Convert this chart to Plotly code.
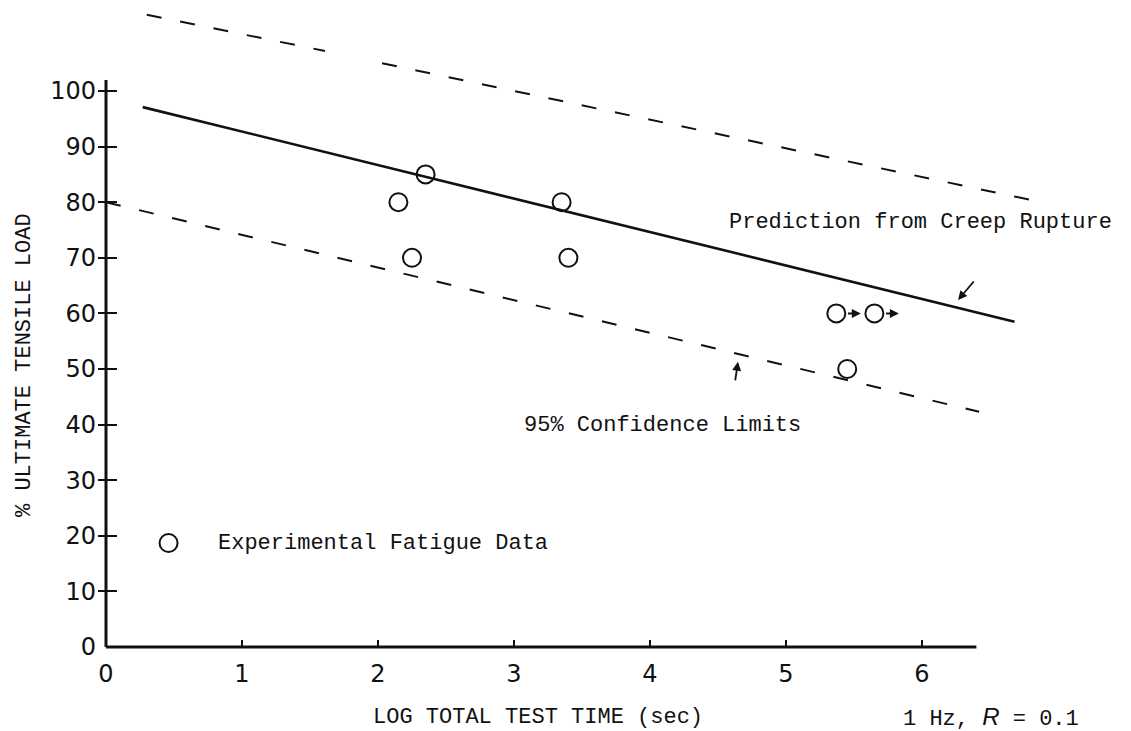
import plotly.graph_objects as go

# ---- data -------------------------------------------------------------
# Experimental fatigue data: log total test time (s) vs % ultimate tensile load
fatigue_log_t = [2.15, 2.35, 2.25, 3.35, 3.40, 5.37, 5.65, 5.45]
fatigue_pct = [80, 85, 70, 80, 70, 60, 60, 50]

# Run-outs (specimens still intact when the test was stopped)
runout_log_t = [5.37, 5.65]
runout_pct = [60, 60]

# Prediction from creep rupture
pred_log_t = [0.27, 6.68]
pred_pct = [97.1, 58.5]

# 95 % confidence limits (upper one is drawn in two pieces)
upper_log_t = [0.30, 1.61, None, 2.03, 6.88]
upper_pct = [113.7, 107.2, None, 105.0, 80.0]
lower_log_t = [0.0, 6.42]
lower_pct = [80.0, 42.3]

# Legend symbol
legend_log_t = [0.46]
legend_pct = [18.7]

# Axes
x_ticks = [0, 1, 2, 3, 4, 5, 6]
y_ticks = [0, 10, 20, 30, 40, 50, 60, 70, 80, 90, 100]
y_cross_ticks = [10, 20, 30, 40, 50, 60, 70, 80, 90, 100]
x_axis_end = 6.40
y_axis_top = 102.0

# ---- page geometry ------------------------------------------------------
W, H = 1131, 731
ML, MB = 92, 76
X0_PX, PX_PER_X = 106, 136.0
Y0_PX, PX_PER_Y = 647, 5.56
x_range = [(ML - X0_PX) / PX_PER_X, (W - X0_PX) / PX_PER_X]
y_range = [-((H - MB) - Y0_PX) / PX_PER_Y, Y0_PX / PX_PER_Y]
x_axis_pos = (0 - y_range[0]) / (y_range[1] - y_range[0])
y_axis_pos = (0 - x_range[0]) / (x_range[1] - x_range[0])

INK = "#111111"
MONO = "Liberation Mono, Courier New, monospace"
DIGITS = "DejaVu Sans, sans-serif"

fig = go.Figure()

# axis lines (ending short of the plot area like a hand-drawn frame)
fig.add_trace(go.Scatter(x=[0, x_axis_end], y=[0, 0], mode="lines",
                         line=dict(color=INK, width=3), hoverinfo="skip"))
fig.add_trace(go.Scatter(x=[0, 0], y=[0, y_axis_top], mode="lines",
                         line=dict(color=INK, width=3), hoverinfo="skip"))

# confidence limits
fig.add_trace(go.Scatter(x=upper_log_t, y=upper_pct, mode="lines",
                         line=dict(color=INK, width=2, dash="15px,19px")))
fig.add_trace(go.Scatter(x=lower_log_t, y=lower_pct, mode="lines",
                         line=dict(color=INK, width=2, dash="15px,19px")))

# creep-rupture prediction
fig.add_trace(go.Scatter(x=pred_log_t, y=pred_pct, mode="lines",
                         line=dict(color=INK, width=2.6)))

# fatigue data and legend symbol
marker = dict(symbol="circle-open", size=18, color=INK, line=dict(width=2, color=INK))
fig.add_trace(go.Scatter(x=fatigue_log_t, y=fatigue_pct, mode="markers", marker=marker))
fig.add_trace(go.Scatter(x=legend_log_t, y=legend_pct, mode="markers", marker=marker))

# empty traces that carry the crossing tick axes
fig.add_trace(go.Scatter(x=[None], y=[None], yaxis="y2", hoverinfo="skip"))
fig.add_trace(go.Scatter(x=[None], y=[None], yaxis="y3", hoverinfo="skip"))

annotations = []

# run-out arrows pointing right from each circle
for xv, yv in zip(runout_log_t, runout_pct):
    annotations.append(dict(x=xv + 0.18, y=yv, ax=xv + 0.075, ay=yv,
                            xref="x", yref="y", axref="x", ayref="y",
                            text="", showarrow=True, arrowhead=2, arrowsize=0.9,
                            arrowwidth=2, arrowcolor=INK))

# pointer to the prediction line
annotations.append(dict(x=6.265, y=62.4, ax=6.39, ay=66.0,
                        xref="x", yref="y", axref="x", ayref="y",
                        text="", showarrow=True, arrowhead=2, arrowsize=1,
                        arrowwidth=1.8, arrowcolor=INK))
# pointer to the lower confidence limit
annotations.append(dict(x=4.647, y=51.3, ax=4.625, ay=47.7,
                        xref="x", yref="y", axref="x", ayref="y",
                        text="", showarrow=True, arrowhead=2, arrowsize=1,
                        arrowwidth=1.8, arrowcolor=INK))

text_font = dict(family=MONO, size=22, color=INK)
annotations += [
    dict(x=4.566, y=76.4, xref="x", yref="y", xanchor="left", yanchor="middle",
         text="Prediction from Creep Rupture", showarrow=False, font=text_font),
    dict(x=5.125, y=39.9, xref="x", yref="y", xanchor="right", yanchor="middle",
         text="95% Confidence Limits", showarrow=False, font=text_font),
    dict(x=0.81, y=18.7, xref="x", yref="y", xanchor="left", yanchor="middle",
         text="Experimental Fatigue Data", showarrow=False, font=text_font),
    dict(x=3.18, y=-(717 - (H - MB)) / (H - MB), xref="x", yref="paper",
         xanchor="center", yanchor="middle",
         text="LOG TOTAL TEST TIME (sec)", showarrow=False, font=text_font),
    dict(x=5.846, y=-(717 - (H - MB)) / (H - MB), xref="x", yref="paper",
         xanchor="left", yanchor="middle",
         text="1 Hz, <span style='font-family:Liberation Sans;font-size:24px'><i>R</i></span> = 0.1",
         showarrow=False, font=text_font),
    dict(x=(25 - ML) / (W - ML), y=((H - MB) - 365) / (H - MB), xref="paper", yref="paper",
         xanchor="center", yanchor="middle", textangle=-90,
         text="% ULTIMATE TENSILE LOAD", showarrow=False, font=text_font),
]

fig.update_layout(
    width=W, height=H,
    margin=dict(l=ML, r=0, t=0, b=MB, pad=0),
    paper_bgcolor="white", plot_bgcolor="white",
    showlegend=False,
    xaxis=dict(range=x_range, anchor="free", position=x_axis_pos,
               showline=False, showgrid=False, zeroline=False,
               tickmode="array", tickvals=x_ticks, ticktext=[str(v) for v in x_ticks],
               ticks="inside", ticklen=7, tickwidth=2, tickcolor=INK,
               ticklabelstandoff=10,
               tickfont=dict(family=DIGITS, size=24, color=INK)),
    yaxis=dict(range=y_range, anchor="free", position=y_axis_pos,
               showline=False, showgrid=False, zeroline=False,
               tickmode="array", tickvals=y_ticks, ticktext=[str(v) for v in y_ticks],
               ticks="", ticklabelstandoff=10,
               tickfont=dict(family=DIGITS, size=24, color=INK)),
    yaxis2=dict(range=y_range, overlaying="y", anchor="free", position=y_axis_pos,
                showline=False, showgrid=False, zeroline=False, showticklabels=False,
                tickmode="array", tickvals=y_cross_ticks,
                ticks="outside", ticklen=8, tickwidth=2, tickcolor=INK),
    yaxis3=dict(range=y_range, overlaying="y", anchor="free", position=y_axis_pos,
                showline=False, showgrid=False, zeroline=False, showticklabels=False,
                tickmode="array", tickvals=y_cross_ticks,
                ticks="inside", ticklen=10, tickwidth=2, tickcolor=INK),
    annotations=annotations,
)

fig.write_html("out.html")
